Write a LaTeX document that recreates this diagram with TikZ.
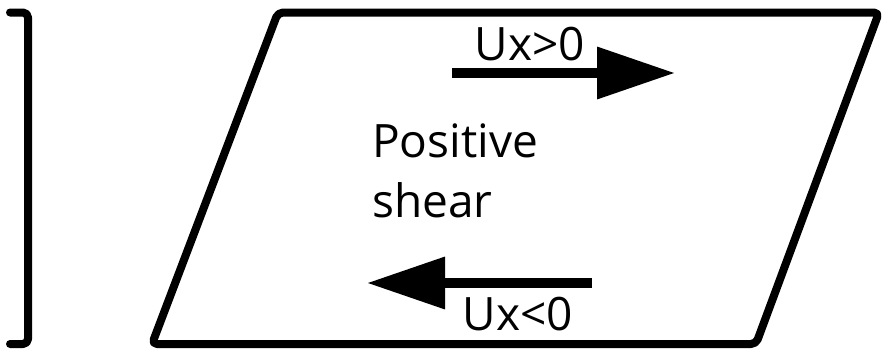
\documentclass[tikz,border=0pt]{standalone}
\usepackage{fontspec}
\setmainfont{Open Sans}
\usetikzlibrary{arrows.meta}
\tikzset{
  outline/.style={line width=8pt, line join=round, line cap=round, rounded corners=5pt},
  flow/.style={line width=10pt, -{Triangle[length=78pt,width=50pt]}, shorten >=-2pt},
  tag/.style={fill=white, inner sep=2pt, font=\fontsize{46}{54}\selectfont, anchor=base},
  body/.style={align=left, anchor=base west, inner sep=0pt, font=\fontsize{46}{60}\selectfont}
}
\begin{document}
\begin{tikzpicture}[x=1pt, y=-1pt]
  \useasboundingbox (0,0) rectangle (884,351);
  % bracket at the left
  \coordinate (b1) at (10,12.5);
  \coordinate (b2) at (28,12.5);
  \coordinate (b3) at (28,344);
  \coordinate (b4) at (10,344);
  \draw[outline] (b1) -- (b2) -- (b3) -- (b4);
  % sheared element
  \coordinate (tl) at (278,12.5);
  \coordinate (tr) at (879,12.5);
  \coordinate (br) at (756,344);
  \coordinate (bl) at (152,344);
  \draw[outline] (tl) -- (tr) -- (br) -- (bl) -- cycle;
  % velocity arrows
  \coordinate (a1) at (452,73);
  \coordinate (a2) at (673,73);
  \coordinate (c1) at (592,283);
  \coordinate (c2) at (369,283);
  \draw[flow] (a1) -- (a2);
  \draw[flow] (c1) -- (c2);
  % labels
  \node[tag] (up) at (530,60) {Ux>0};
  \node[tag] (dn) at (518,330) {Ux<0};
  \node[body] (txt) at (372,217) {Positive\\shear};
\end{tikzpicture}
\end{document}
